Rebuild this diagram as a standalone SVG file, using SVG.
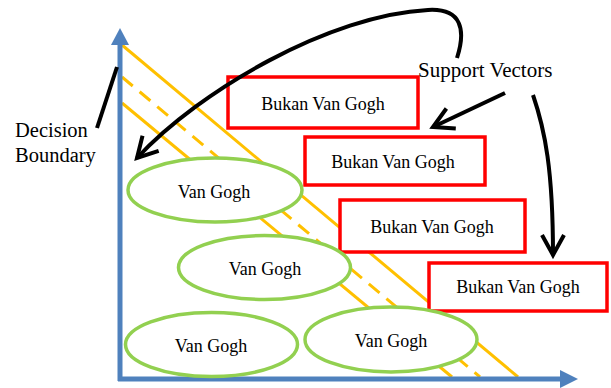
<svg xmlns="http://www.w3.org/2000/svg" width="611" height="388" viewBox="0 0 611 388">
<style>
.t{font-family:"Liberation Serif","Times New Roman",serif;fill:#000}
.box{fill:#fff;stroke:#FF0000;stroke-width:3.5}
.ell{fill:#fff;stroke:#92D050;stroke-width:3.5}
.org{stroke:#FFC000;stroke-width:3;fill:none}
.blk{stroke:#000;stroke-width:4;fill:none}
.axis{stroke:#4F81BD;stroke-width:5;fill:none}
</style>
<defs>
<marker id="ah" markerUnits="userSpaceOnUse" markerWidth="40" markerHeight="40" viewBox="-30 -20 40 40" refX="0" refY="0" orient="auto">
<path d="M-20,-11 L0,0 L-20,11" fill="none" stroke="#000" stroke-width="4"/>
</marker>
</defs>
<rect width="611" height="388" fill="#fff"/>
<g id="margin-lines">
<line class="org" x1="122" y1="45" x2="518" y2="377"/>
<line class="org" x1="122" y1="77" x2="480" y2="377" stroke-dasharray="14 9"/>
<line class="org" x1="122" y1="103" x2="452" y2="377"/>
</g>
<g id="axes">
<line class="axis" x1="120" y1="381" x2="120" y2="43"/>
<polygon points="120,28 111,45 129,45" fill="#4F81BD"/>
<line class="axis" x1="118" y1="379" x2="562" y2="379"/>
<polygon points="578,379 560,370 560,388" fill="#4F81BD"/>
</g>
<g id="box1"><rect class="box" x="228" y="77" width="190" height="51"/><text class="t" x="323" y="110" font-size="18" text-anchor="middle">Bukan Van Gogh</text></g>
<g id="box2"><rect class="box" x="305" y="137" width="180" height="48"/><text class="t" x="393" y="168" font-size="18" text-anchor="middle">Bukan Van Gogh</text></g>
<g id="box3"><rect class="box" x="340" y="200" width="185" height="52"/><text class="t" x="432" y="233" font-size="18" text-anchor="middle">Bukan Van Gogh</text></g>
<g id="box4"><rect class="box" x="429" y="263" width="178" height="48"/><text class="t" x="518" y="293" font-size="18" text-anchor="middle">Bukan Van Gogh</text></g>
<g id="vg1"><ellipse class="ell" cx="215" cy="190" rx="87" ry="32"/><text class="t" x="214" y="198" font-size="18" text-anchor="middle">Van Gogh</text></g>
<g id="vg2"><ellipse class="ell" cx="264.5" cy="267.5" rx="86" ry="32"/><text class="t" x="265" y="275" font-size="18" text-anchor="middle">Van Gogh</text></g>
<g id="vg3"><ellipse class="ell" cx="211.5" cy="344.5" rx="86" ry="32"/><text class="t" x="211" y="352" font-size="18" text-anchor="middle">Van Gogh</text></g>
<g id="vg4"><ellipse class="ell" cx="391" cy="339.5" rx="86" ry="32.5"/><text class="t" x="391" y="347" font-size="18" text-anchor="middle">Van Gogh</text></g>
<g id="label-support"><text class="t" x="418" y="77" font-size="21">Support Vectors</text></g>
<g id="label-decision"><text class="t" x="15" y="137" font-size="20.5">Decision</text><text class="t" x="15" y="162" font-size="20.5">Boundary</text></g>
<g id="connectors">
<line class="blk" x1="97" y1="128" x2="117" y2="67"/>
<path class="blk" d="M457,58 C466,30 462,8 428,10 C330,15 200,90 137,158" marker-end="url(#ah)"/>
<line class="blk" x1="505" y1="93" x2="433" y2="127" marker-end="url(#ah)"/>
<path class="blk" d="M533,95 C545,130 553,170 553,255" marker-end="url(#ah)"/>
</g>
</svg>
